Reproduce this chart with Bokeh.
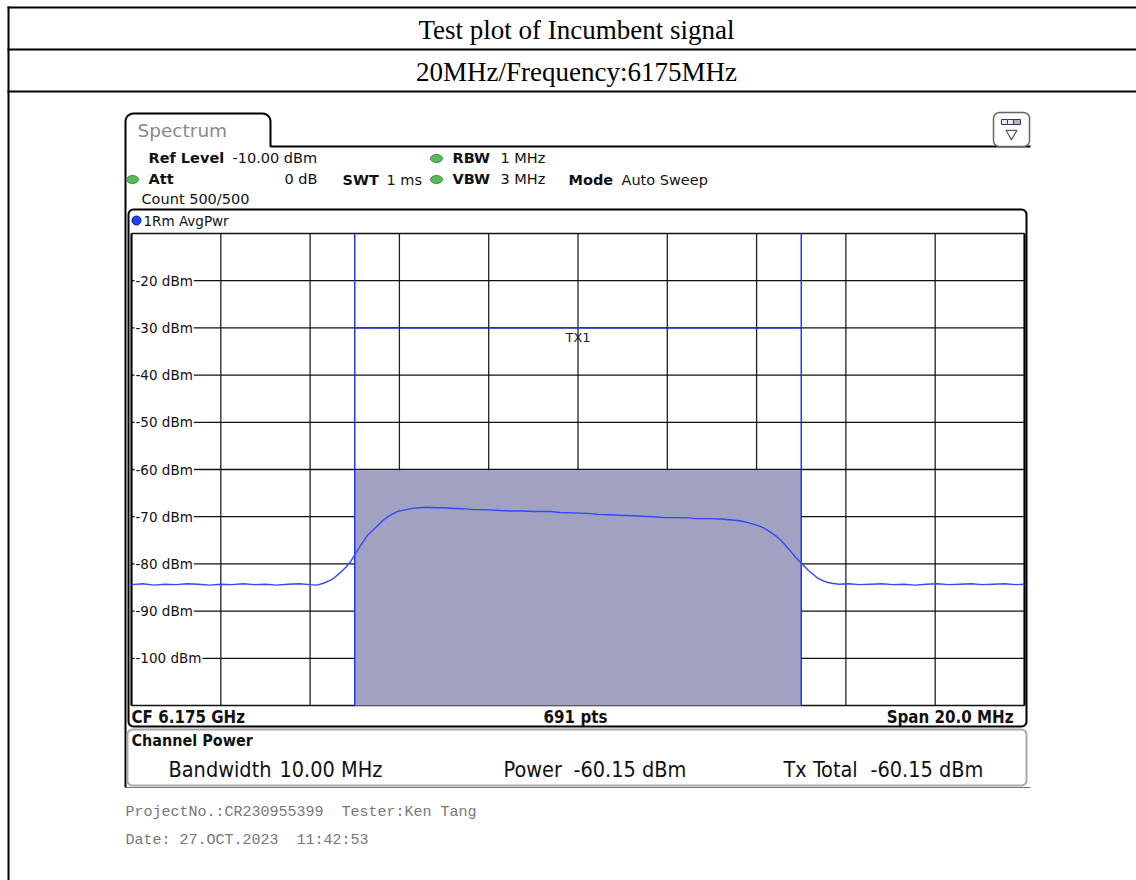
import numpy as np
from bokeh.plotting import figure
from bokeh.models import Range1d
from bokeh.core.properties import value
from bokeh.embed import file_html
from bokeh.resources import INLINE

# ---------------- data ----------------
freq_mhz = [6165.0, 6165.25, 6165.5, 6165.75, 6166.0, 6166.25, 6166.5, 6166.75, 6167.0, 6167.25,
            6167.5, 6167.75, 6168.0, 6168.25, 6168.5, 6168.75, 6169.0, 6169.15, 6169.3, 6169.45,
            6169.55, 6169.68, 6169.8, 6169.9, 6170.0, 6170.13, 6170.28, 6170.4, 6170.5, 6170.62,
            6170.73, 6170.85, 6170.95, 6171.1, 6171.25, 6171.45, 6171.62, 6171.8, 6172.0, 6172.14,
            6172.4, 6172.67, 6172.9, 6173.26, 6173.5, 6173.75, 6174.01, 6174.2, 6174.38, 6174.6,
            6174.91, 6175.2, 6175.45, 6175.69, 6175.95, 6176.2, 6176.44, 6176.7, 6176.95, 6177.18,
            6177.4, 6177.65, 6177.93, 6178.2, 6178.45, 6178.65, 6178.83, 6179.0, 6179.12, 6179.25,
            6179.42, 6179.55, 6179.65, 6179.77, 6179.87, 6180.02, 6180.15, 6180.25, 6180.35, 6180.47,
            6180.58, 6180.69, 6180.85, 6181.07, 6181.3, 6181.55, 6181.8, 6182.05, 6182.3, 6182.55,
            6182.8, 6183.05, 6183.3, 6183.55, 6183.8, 6184.05, 6184.3, 6184.55, 6184.8, 6185.0]
level_dbm = [-84.4, -84.2, -84.5, -84.3, -84.4, -84.2, -84.3, -84.5, -84.3, -84.4,
             -84.2, -84.4, -84.3, -84.5, -84.3, -84.2, -84.4, -84.5, -84.1, -83.5,
             -82.9, -81.8, -80.7, -79.6, -78.1, -76.1, -74.0, -72.9, -72.0, -70.9,
             -70.1, -69.4, -68.9, -68.6, -68.3, -68.1, -68.0, -68.1, -68.1, -68.2,
             -68.3, -68.5, -68.5, -68.7, -68.8, -68.8, -68.9, -68.9, -68.9, -69.1,
             -69.2, -69.3, -69.5, -69.6, -69.7, -69.8, -69.9, -70.0, -70.2, -70.2,
             -70.2, -70.4, -70.4, -70.5, -70.7, -70.9, -71.3, -71.8, -72.2, -72.9,
             -74.0, -75.1, -76.1, -77.4, -78.6, -80.0, -81.3, -82.1, -82.9, -83.5,
             -83.9, -84.1, -84.3, -84.2, -84.4, -84.3, -84.2, -84.4, -84.3, -84.5,
             -84.3, -84.2, -84.4, -84.3, -84.2, -84.4, -84.3, -84.2, -84.4, -84.3]

span_start_mhz = 6165.0
span_stop_mhz = 6185.0
x_ticks_mhz = [6165, 6167, 6169, 6171, 6173, 6175, 6177, 6179, 6181, 6183, 6185]
y_ticks_dbm = [-10, -20, -30, -40, -50, -60, -70, -80, -90, -100, -110]
y_tick_labels = ["", "-20 dBm", "-30 dBm", "-40 dBm", "-50 dBm", "-60 dBm",
                 "-70 dBm", "-80 dBm", "-90 dBm", "-100 dBm", ""]
channel_lo_mhz = 6170.0
channel_hi_mhz = 6180.0
channel_power_dbm = -60.15
tx_line_dbm = -30.0
tx_label = "TX1"

# ---------------- layout (page pixels) ----------------
W, H = 1136, 880
PX0, PY0 = 0, 0
GL, GR, GT, GB = 131, 1024, 233, 705
NB = "\u00a0"

p = figure(width=W, height=H, output_backend="svg", toolbar_location=None,
           x_axis_type=None, y_axis_type=None, min_border=0,
           min_border_left=0, min_border_right=0, min_border_top=0, min_border_bottom=0,
           x_range=Range1d(PX0, PX0 + W), y_range=Range1d(PY0 + H, PY0),
           background_fill_color="white", border_fill_color="white")
p.outline_line_color = None

sx = (GR - GL) / (span_stop_mhz - span_start_mhz)
sy = (GB - GT) / (y_ticks_dbm[0] - y_ticks_dbm[-1])
p.extra_x_ranges = {"mhz": Range1d(span_start_mhz - (GL - PX0) / sx,
                                   span_stop_mhz + (PX0 + W - GR) / sx)}
p.extra_y_ranges = {"dbm": Range1d(y_ticks_dbm[-1] - (PY0 + H - GB) / sy,
                                   y_ticks_dbm[0] + (GT - PY0) / sy)}
D = dict(x_range_name="mhz", y_range_name="dbm")


def arc(cx, cy, r, a0, a1, n=8):
    a = np.radians(np.linspace(a0, a1, n))
    return list(cx + r * np.cos(a)), list(cy + r * np.sin(a))


def rbox(x0, y0, x1, y1, r):
    xs, ys = [], []
    for (cx, cy, a0, a1) in [(x0 + r, y0 + r, 180, 270), (x1 - r, y0 + r, 270, 360),
                             (x1 - r, y1 - r, 0, 90), (x0 + r, y1 - r, 90, 180)]:
        ax, ay = arc(cx, cy, r, a0, a1)
        xs += ax
        ys += ay
    return xs + [xs[0]], ys + [ys[0]]


def txt(x, y, s, size="14.5px", font="DejaVu Sans", bold=False, color="#111111",
        align="left", baseline="middle"):
    p.text(x=[x], y=[y], text=[s], text_font=value(font), text_font_size=size,
           text_font_style="bold" if bold else "normal", text_color=color,
           text_align=align, text_baseline=baseline)


# table
p.segment(x0=[7, 7, 7, 8], y0=[7, 49, 91, 6], x1=[W + 4, W + 4, W + 4, 8], y1=[7, 49, 91, H + 4],
          line_color="black", line_width=2)
txt(576, 29, "Test plot of Incumbent signal", size="27px", font="Liberation Serif",
    color="black", align="center")
txt(576, 71, "20MHz/Frequency:6175MHz", size="27px", font="Liberation Serif",
    color="black", align="center")

# tab + outer frame
tx, ty = [125], [787]
ax, ay = arc(133, 121, 8, 180, 270); tx += ax; ty += ay
ax, ay = arc(262, 121, 8, 270, 360); tx += ax; ty += ay
tx += [270, 1030]; ty += [146, 146]
p.line(tx, ty, line_color="black", line_width=2)
txt(137, 130, "Spectrum", size="18.5px", color="#8a8a8a")

# icon
bx, by = rbox(993, 112, 1029, 146, 6)
p.patch(bx, by, fill_color="white", line_color="#666666", line_width=1.5)
p.quad(left=[1001, 1007, 1013], right=[1007, 1013, 1020], top=[119, 119, 119], bottom=[124, 124, 124],
       fill_color=["#e8e8f4", "#e8e8f4", "#b0b0c8"], line_color="#333366", line_width=1)
p.scatter(x=[1011], y=[133], marker="inverted_triangle", size=11, fill_color=None,
          line_color="#555577", line_width=1.2)

# header settings
txt(148, 157, "Ref Level", bold=True)
txt(232, 157, "-10.00 dBm")
txt(452, 157, "RBW", bold=True)
txt(500, 157, "1 MHz")
txt(148, 178, "Att", bold=True)
txt(317, 178, "0 dB", align="right")
txt(342, 179, "SWT", bold=True)
txt(386, 179, "1 ms")
txt(452, 178, "VBW", bold=True)
txt(500, 178, "3 MHz")
txt(568, 179, "Mode", bold=True)
txt(621, 179, "Auto Sweep")
txt(141, 198, "Count 500/500")
p.ellipse(x=[436, 436, 132], y=[158, 179, 179], width=12, height=8,
          fill_color="#5cb85c", line_color="#3c8c3c", line_width=1)

# plot box
bx, by = rbox(128, 209, 1026, 726, 5)
p.line(bx, by, line_color="black", line_width=2)
p.ellipse(x=[136], y=[220], width=9, height=9, fill_color="#2244ee", line_color="#0a1a88")
txt(143, 220, "1Rm AvgPwr", size="13.5px")

# grid
p.segment(x0=x_ticks_mhz, y0=[y_ticks_dbm[-1]] * len(x_ticks_mhz),
          x1=x_ticks_mhz, y1=[y_ticks_dbm[0]] * len(x_ticks_mhz),
          line_color="#222222", line_width=1.3, **D)
p.segment(x0=[span_start_mhz] * len(y_ticks_dbm), y0=y_ticks_dbm,
          x1=[span_stop_mhz] * len(y_ticks_dbm), y1=y_ticks_dbm,
          line_color="#111111", line_width=1.3, **D)
p.segment(x0=[span_start_mhz, span_stop_mhz], y0=[y_ticks_dbm[-1]] * 2,
          x1=[span_start_mhz, span_stop_mhz], y1=[y_ticks_dbm[0]] * 2,
          line_color="black", line_width=2, **D)

# y labels
lab_y = [v for v, s in zip(y_ticks_dbm, y_tick_labels) if s]
lab_s = [s for s in y_tick_labels if s]
p.text(x=[span_start_mhz] * len(lab_y), y=lab_y, text=lab_s, x_offset=3,
       text_font=value("DejaVu Sans"), text_font_size="13.5px", text_color="#111111",
       text_align="left", text_baseline="middle", background_fill_color="white",
       padding=1, **D)

# channel power region
p.quad(left=[channel_lo_mhz], right=[channel_hi_mhz], bottom=[y_ticks_dbm[-1]],
       top=[channel_power_dbm], fill_color="#a1a1c1", line_color=None, **D)
p.segment(x0=[channel_lo_mhz, channel_hi_mhz], y0=[y_ticks_dbm[-1]] * 2,
          x1=[channel_lo_mhz, channel_hi_mhz], y1=[y_ticks_dbm[0]] * 2,
          line_color="#1a2aff", line_width=1.4, **D)
p.segment(x0=[channel_lo_mhz], y0=[tx_line_dbm], x1=[channel_hi_mhz], y1=[tx_line_dbm],
          line_color="#1a2aff", line_width=1.4, **D)
p.text(x=[(channel_lo_mhz + channel_hi_mhz) / 2], y=[tx_line_dbm], text=[tx_label], y_offset=10,
       text_font=value("DejaVu Sans"), text_font_size="13px", text_color="#222222",
       text_align="center", text_baseline="middle", **D)

# trace
p.line(freq_mhz, level_dbm, line_color="#3348ff", line_width=1.4, **D)

# bottom info row
CB = dict(size="16.8px", font="DejaVu Sans Condensed", bold=True)
txt(131, 716, "CF 6.175 GHz", **CB)
txt(575, 716, "691 pts", align="center", **CB)
txt(1013, 716, "Span 20.0 MHz", align="right", **CB)

# channel power box
bx, by = rbox(127, 729, 1026, 785, 5)
p.line(bx, by, line_color="#aaaaaa", line_width=2)
p.segment(x0=[125], y0=[787], x1=[1030], y1=[787], line_color="#777777", line_width=1.2)
txt(131, 740, "Channel Power", size="16px", font="DejaVu Sans Condensed", bold=True)
for x, s in [(168, "Bandwidth"), (279, "10.00 MHz"), (503, "Power"), (573, "-60.15 dBm"),
             (783, "Tx Total"), (870, "-60.15 dBm")]:
    txt(x, 769, s, size="21.5px", font="DejaVu Sans Condensed")

# footer
txt(125, 812, "ProjectNo.:CR230955399" + NB + NB + "Tester:Ken Tang", size="15px",
    font="Liberation Mono", color="#777777")
txt(125, 840, "Date: 27.OCT.2023" + NB + NB + "11:42:53", size="15px",
    font="Liberation Mono", color="#777777")

open("out.html", "w").write(file_html(p, INLINE))
